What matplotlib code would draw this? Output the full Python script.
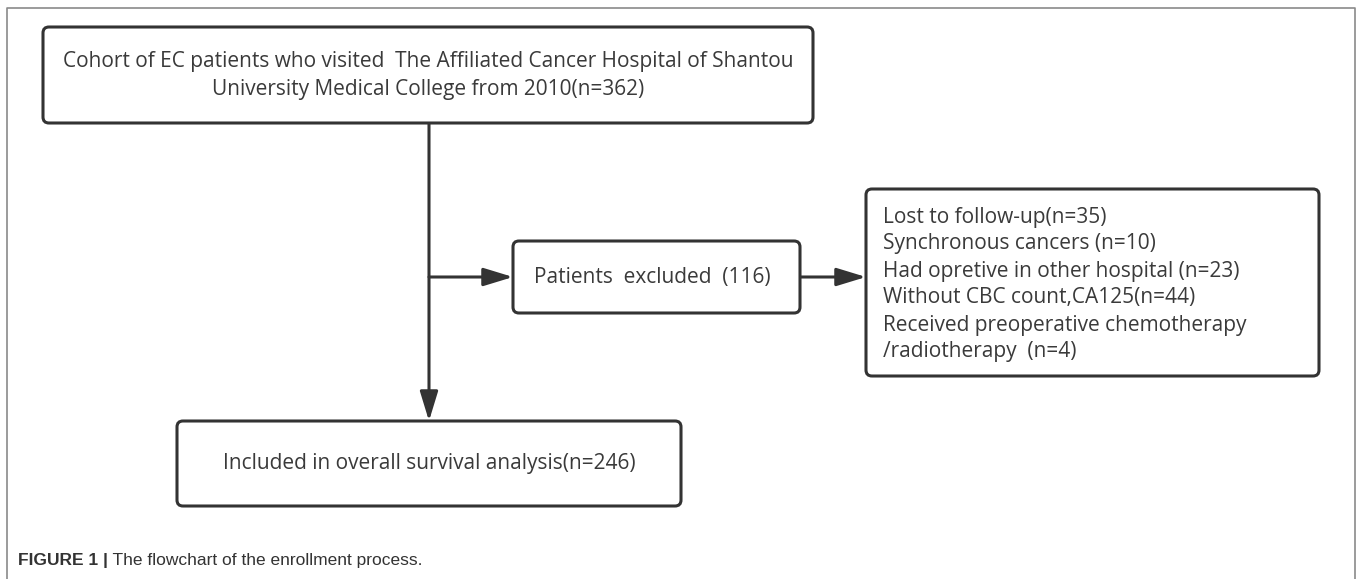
import matplotlib.pyplot as plt
from matplotlib.patches import FancyBboxPatch

# box texts
top_text = ["Cohort of EC patients who visited  The Affiliated Cancer Hospital of Shantou",
            "University Medical College from 2010(n=362)"]
mid_text = "Patients  excluded  (116)"
excl_reasons = ["Lost to follow-up(n=35)",
                "Synchronous cancers (n=10)",
                "Had opretive in other hospital (n=23)",
                "Without CBC count,CA125(n=44)",
                "Received preoperative chemotherapy",
                "/radiotherapy  (n=4)"]
bottom_text = "Included in overall survival analysis(n=246)"
caption_bold = "FIGURE 1 |"
caption_rest = " The flowchart of the enrollment process."

W, H = 1358, 579
fig = plt.figure(figsize=(W / 100, H / 100), dpi=100)
ax = fig.add_axes([0, 0, 1, 1])
ax.set_xlim(0, W)
ax.set_ylim(H, 0)
ax.axis("off")

ec = "#333333"
tc = "#3a3a3a"
fs = 15
fam = ["Open Sans", "DejaVu Sans"]

# outer frame (bottom edge is off the picture)
ax.plot([7, 7, 1355, 1355], [H + 5, 8, 8, H + 5], color="#8a8a8a", lw=1.2)


def box(x0, y0, x1, y1):
    p = FancyBboxPatch((x0, y0), x1 - x0, y1 - y0,
                       boxstyle="round,pad=0,rounding_size=6",
                       fc="white", ec=ec, lw=2.2, zorder=3)
    ax.add_patch(p)


def arrow(x0, y0, x1, y1):
    ax.annotate("", xy=(x1, y1), xytext=(x0, y0),
                arrowprops=dict(arrowstyle="-|>,head_length=1.8,head_width=0.55",
                                color=ec, lw=2.2, shrinkA=0, shrinkB=0),
                zorder=2)


# boxes
box(43, 27, 813, 123)
box(513, 241, 800, 313)
box(866, 189, 1319, 376)
box(177, 421, 681, 506)

# connectors
arrow(429, 123, 429, 421)
arrow(429, 277, 513, 277)
arrow(800, 277, 866, 277)

# texts
ax.text(428, 62, top_text[0], ha="center", va="center", fontsize=fs, color=tc, family=fam, zorder=4)
ax.text(428, 89, top_text[1], ha="center", va="center", fontsize=fs, color=tc, family=fam, zorder=4)
ax.text(652, 277, mid_text, ha="center", va="center", fontsize=fs, color=tc, family=fam, zorder=4)
for i, line in enumerate(excl_reasons):
    ax.text(883, 217 + 27 * i, line, ha="left", va="center", fontsize=fs, color=tc, family=fam, zorder=4)
ax.text(429, 464, bottom_text, ha="center", va="center", fontsize=fs, color=tc, family=fam, zorder=4)

t = ax.text(18, 560, caption_bold, ha="left", va="center", fontsize=12.5, color="#333333",
            family=["Liberation Sans", "DejaVu Sans"], weight="bold")
fig.canvas.draw()
bb = t.get_window_extent()
ax.text(18 + bb.width, 560, caption_rest, ha="left", va="center", fontsize=12.5, color="#333333",
        family=["Liberation Sans", "DejaVu Sans"])

fig.savefig("out.png", dpi=100)
